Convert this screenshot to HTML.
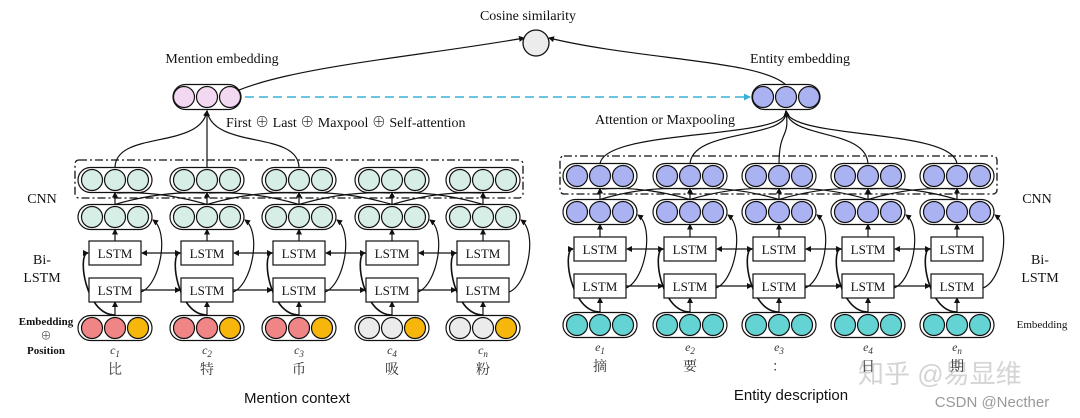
<!DOCTYPE html>
<html><head><meta charset="utf-8"><style>
html,body{margin:0;padding:0;background:#fff;width:1080px;height:418px;overflow:hidden}
svg{display:block}
.t{font-family:"Liberation Serif","Noto Serif CJK SC",serif;fill:#111}
.s{font-family:"Liberation Sans","Noto Sans CJK SC",sans-serif;fill:#111}
</style></head><body>
<svg id="g" width="1080" height="418" viewBox="0 0 1080 418" xmlns="http://www.w3.org/2000/svg">
<defs><marker id="a" markerWidth="6" markerHeight="6" refX="5" refY="3" orient="auto" markerUnits="userSpaceOnUse"><path d="M0,0L6,3L0,6z" fill="#111"/></marker>
<marker id="b" markerWidth="7" markerHeight="7" refX="6" refY="3.5" orient="auto" markerUnits="userSpaceOnUse"><path d="M0,0L7,3.5L0,7z" fill="#3ab0d8"/></marker></defs>
<text class="t" x="528" y="20" font-size="14" text-anchor="middle">Cosine similarity</text>
<circle cx="536" cy="43" r="13" fill="#ececec" stroke="#111" stroke-width="1.3"/>
<text class="t" x="222" y="63" font-size="14" text-anchor="middle">Mention embedding</text>
<text class="t" x="800" y="63" font-size="14" text-anchor="middle">Entity embedding</text>
<text class="t" x="226" y="127" font-size="14">First ⊕ Last ⊕ Maxpool ⊕ Self-attention</text>
<text class="t" x="595" y="124" font-size="14">Attention or Maxpooling</text>
<text class="t" x="42" y="203" font-size="14" text-anchor="middle">CNN</text>
<text class="t" x="42" y="264" font-size="14" text-anchor="middle">Bi-</text>
<text class="t" x="42" y="282" font-size="14" text-anchor="middle">LSTM</text>
<text class="t" x="46" y="325" font-size="11" font-weight="bold" text-anchor="middle">Embedding</text>
<text class="t" x="46" y="339" font-size="11" text-anchor="middle">⊕</text>
<text class="t" x="46" y="354" font-size="11" font-weight="bold" text-anchor="middle">Position</text>
<text class="t" x="1037" y="203" font-size="14" text-anchor="middle">CNN</text>
<text class="t" x="1040" y="264" font-size="14" text-anchor="middle">Bi-</text>
<text class="t" x="1040" y="282" font-size="14" text-anchor="middle">LSTM</text>
<text class="t" x="1042" y="328" font-size="11" text-anchor="middle">Embedding</text>
<text class="s" x="297" y="403" font-size="15" text-anchor="middle">Mention context</text>
<text class="s" x="791" y="400" font-size="15" text-anchor="middle">Entity description</text>
<text class="s" x="858" y="383" font-size="26" style="fill:#d4d4d4">知乎 @易显维</text>
<text class="s" x="992" y="407" font-size="15" style="fill:#999" text-anchor="middle">CSDN @Necther</text>
</svg>
<script>
var g=document.getElementById('g'),NS='http://www.w3.org/2000/svg';
function el(t,a,txt){var e=document.createElementNS(NS,t);for(var k in a)e.setAttribute(k,a[k]);if(txt)e.textContent=txt;g.appendChild(e);return e;}
function pill(cx,cy,cols,w){w=w||74;el('rect',{x:cx-w/2,y:cy-12.5,width:w,height:25,rx:12.5,fill:'#fff',stroke:'#111','stroke-width':1.2});
 [-23,0,23].forEach(function(o,i){el('circle',{cx:cx+o,cy:cy,r:10.5,fill:cols[i],stroke:'#111','stroke-width':1.2});});}
function line(d,m,extra){var a={d:d,fill:'none',stroke:'#111','stroke-width':1.2};if(m)a['marker-end']='url(#a)';for(var k in extra)a[k]=extra[k];el('path',a);}
function side(xs,rows,topCol,embCols,labels,chars,pre){
 var T=rows[0],S=rows[1],U=rows[2],L=rows[3],E=rows[4];
 el('rect',{x:xs[0]-40,y:T-20,width:xs[4]-xs[0]+80,height:38,rx:4,fill:'none',stroke:'#111','stroke-width':1.3,'stroke-dasharray':'8,3,2,3'});
 xs.forEach(function(x,i){
  line('M'+x+','+(E-12.5)+'L'+x+','+(L+12),1);
  line('M'+x+','+(U-12)+'L'+x+','+(S+12.5),1);
  line('M'+x+','+(S-12.5)+'L'+x+','+(T+12.5),1);
  line('M'+x+','+(E-13)+'C'+(x-30)+','+(E-13)+' '+(x-38)+','+(U)+' '+(x-27)+','+U,1,{'stroke-width':1.6});
  line('M'+(x+26)+','+(L+2)+'C'+(x+45)+','+(L-5)+' '+(x+55)+','+(S+15)+' '+(x+38)+','+(S+3),1);
  if(i>0)line('M'+x+','+(S-12.5)+'Q'+(x-45)+','+(S-26)+' '+(xs[i-1]+2)+','+(T+13),0);
  if(i<4)line('M'+x+','+(S-12.5)+'Q'+(x+45)+','+(S-26)+' '+(xs[i+1]-2)+','+(T+13),0);
  if(i<4){line('M'+(xs[i+1]-26)+','+U+'L'+(x+27)+','+U,1);
   line('M'+(x+26)+','+L+'L'+(xs[i+1]-27)+','+L,1);}
 });
 xs.forEach(function(x,i){
  pill(x,T,[topCol,topCol,topCol]);pill(x,S,[topCol,topCol,topCol]);pill(x,E,embCols[i]);
  [U,L].forEach(function(y){el('rect',{x:x-26,y:y-12,width:52,height:24,fill:'#fff',stroke:'#111','stroke-width':1.2});
   el('text',{x:x,y:y+5,'font-size':13,'text-anchor':'middle','class':'t'},'LSTM');});
  var lb=el('text',{x:x,y:E+26,'font-size':12,'text-anchor':'middle','class':'t','font-style':'italic',style:'fill:#333'},pre);
  var ts=document.createElementNS(NS,'tspan');ts.setAttribute('font-size','9');ts.setAttribute('dy','3');ts.textContent=labels[i];lb.appendChild(ts);
  el('text',{x:x,y:E+46,'font-size':14,'text-anchor':'middle','class':'t',style:'fill:#333'},chars[i]);
 });
}
var P='#f08585',Y='#f6b60b',G='#ebebeb',M='#d7eee6',B='#aab2f2',C='#63d3d3';
var LX=[115,207,299,392,483],RX=[600,690,779,868,957];
line('M207,110C240,70 400,60 524,38',1);
line('M786,85C760,60 640,60 549,38',1);
el('path',{d:'M245,97L750,97',stroke:'#3ab0d8','stroke-width':1.5,'stroke-dasharray':'9,5',fill:'none','marker-end':'url(#b)'});
line('M115,168C115,130 200,150 207,111',1);line('M207,168L207,111',1);line('M299,168C299,130 214,150 207,111',0);
RX.forEach(function(x){line('M'+x+',165C'+x+',128 790,140 786,111',1);});
side(LX,[180,217,253,290,328],M,[[P,P,Y],[P,P,Y],[P,P,Y],[G,G,Y],[G,G,Y]],['1','2','3','4','n'],['比','特','币','吸','粉'],'c');
side(RX,[176,212,249,286,325],B,[[C,C,C],[C,C,C],[C,C,C],[C,C,C],[C,C,C]],['1','2','3','4','n'],['摘','要','：','日','期'],'e');
pill(207,97,['#f3d8f2','#f3d8f2','#f3d8f2'],68);
pill(786,97,[B,B,B],68);
</script>
</body></html>
